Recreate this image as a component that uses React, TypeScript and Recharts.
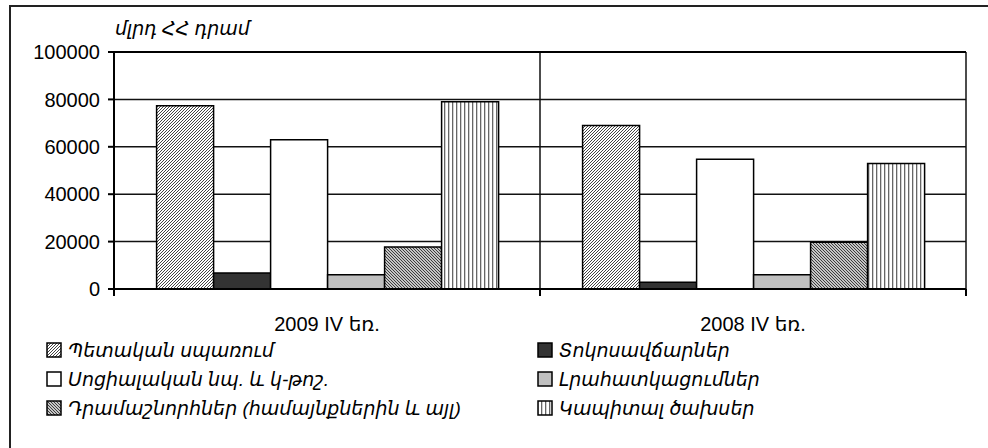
import React from 'react';
import { BarChart, Bar, XAxis, YAxis, CartesianGrid, ReferenceLine } from 'recharts';

// quarters shown on the x axis
const categories = ['2009 IV եռ.', '2008 IV եռ.'];

// values, bln AMD
const govConsumption = [77300, 69000];
const interestPayments = [6800, 2800];
const socialBenefits = [63000, 54700];
const subsidies = [6000, 6000];
const grants = [17700, 19700];
const capitalSpending = [79000, 53000];

const yTicks = [0, 20000, 40000, 60000, 80000, 100000];

const seriesNames = [
  'Պետական սպառում',
  'Տոկոսավճարներ',
  'Սոցիալական նպ. և կ-թոշ.',
  'Լրահատկացումներ',
  'Դրամաշնորհներ (համայնքներին և այլ)',
  'Կապիտալ ծախսեր',
];

const seriesValues = [govConsumption, interestPayments, socialBenefits, subsidies, grants, capitalSpending];

const data = categories.map((name, i) => {
  const row: any = { name };
  seriesValues.forEach((vals, s) => {
    row['s' + s] = vals[i];
  });
  return row;
});

const fills = ['hatchUp', '#333333', '#ffffff', '#c0c0c0', 'hatchDown', 'vStripes'];

const FONT = '"Liberation Sans", "DejaVu Sans", Arial, sans-serif';
const TICK_MARGIN = 28;

function Patterns({ prefix }: { prefix: string }) {
  return (
    <defs>
      <pattern id={prefix + 'hatchUp'} patternUnits="userSpaceOnUse" width="3" height="3">
        <rect width="3" height="3" fill="#fff" />
        <path d="M-1,1 l2,-2 M0,3 l3,-3 M2,4 l2,-2" stroke="#444" strokeWidth="1" />
      </pattern>
      <pattern id={prefix + 'hatchDown'} patternUnits="userSpaceOnUse" width="3" height="3">
        <rect width="3" height="3" fill="#fff" />
        <path d="M-1,-1 l5,5 M-1,2 l2,2 M2,-1 l2,2" stroke="#333" strokeWidth="1.1" />
      </pattern>
      <pattern id={prefix + 'vStripes'} patternUnits="userSpaceOnUse" width="4" height="4">
        <rect width="4" height="4" fill="#fff" />
        <rect x="0" width="1.3" height="4" fill="#666" />
      </pattern>
    </defs>
  );
}

function fillFor(i: number, prefix: string) {
  const f = fills[i];
  return f.startsWith('#') ? f : `url(#${prefix}${f})`;
}

function CategoryTick(props: any) {
  const { x, y, payload, index, visibleTicksCount } = props;
  const half = payload && payload.offset ? payload.offset : 0;
  const axisY = y - TICK_MARGIN;
  return (
    <g>
      <line x1={x - half} x2={x - half} y1={axisY} y2={axisY + 7} stroke="#000" strokeWidth={2} />
      {index === visibleTicksCount - 1 && (
        <line x1={x + half} x2={x + half} y1={axisY} y2={axisY + 7} stroke="#000" strokeWidth={2} />
      )}
      <text x={x} y={y} dy="0.71em" textAnchor="middle" fill="#000" fontSize={20} fontFamily={FONT}>
        {payload.value}
      </text>
    </g>
  );
}

function LegendIcon({ index }: { index: number }) {
  const prefix = 'lg' + index;
  return (
    <svg width={16} height={16} style={{ display: 'block' }}>
      <Patterns prefix={prefix} />
      <rect x={1} y={1} width={14} height={14} fill={fillFor(index, prefix)} stroke="#000" strokeWidth={1.5} />
    </svg>
  );
}

export default function App() {
  const legendOrder = [0, 2, 4, 1, 3, 5];
  return (
    <div style={{ position: 'absolute', left: 0, top: 0, width: 988, height: 448, background: '#fff', overflow: 'hidden' }}>
      <div
        style={{
          position: 'absolute',
          left: 9,
          top: 5,
          width: 990,
          height: 460,
          borderLeft: '2px solid #222',
          borderTop: '2px solid #222',
        }}
      />
      <div
        style={{
          position: 'absolute',
          left: 115,
          top: 17,
          fontFamily: FONT,
          fontStyle: 'italic',
          fontSize: 19,
          color: '#000',
        }}
      >
        մլրդ ՀՀ դրամ
      </div>
      <div style={{ position: 'absolute', left: 0, top: 0 }}>
        <BarChart
          width={988}
          height={448}
          data={data}
          margin={{ top: 52, right: 22, left: 0, bottom: 0 }}
          barCategoryGap="10%"
          barGap={0}
        >
          <Patterns prefix="" />
          <CartesianGrid
            stroke="#111"
            strokeWidth={1.5}
            verticalCoordinatesGenerator={({ offset }: any) => [
              offset.left,
              offset.left + offset.width / 2,
              offset.left + offset.width,
            ]}
          />
          <XAxis
            dataKey="name"
            height={159}
            tickLine={false}
            tickSize={0}
            tickMargin={TICK_MARGIN}
            axisLine={{ stroke: '#000', strokeWidth: 2 }}
            tick={<CategoryTick />}
            interval={0}
          />
          <YAxis
            domain={[0, 100000]}
            ticks={yTicks}
            width={114}
            tickSize={6}
            tickMargin={8}
            tickLine={{ stroke: '#000', strokeWidth: 2 }}
            axisLine={{ stroke: '#000', strokeWidth: 2 }}
            tick={{ fill: '#000', fontSize: 20, fontFamily: FONT }}
            allowDataOverflow
          />
          <ReferenceLine y={100000} stroke="#000" strokeWidth={2} />
          {seriesNames.map((n, i) => (
            <Bar
              key={i}
              dataKey={'s' + i}
              name={n}
              fill={fillFor(i, '')}
              stroke="#000"
              strokeWidth={1.5}
              isAnimationActive={false}
            />
          ))}
        </BarChart>
      </div>
      <div
        style={{
          position: 'absolute',
          left: 46,
          top: 340,
          width: 900,
          display: 'grid',
          gridTemplateColumns: '491px 400px',
          rowGap: 9,
          fontFamily: FONT,
          fontStyle: 'italic',
          fontSize: 19,
          color: '#000',
        }}
      >
        {[0, 1, 2, 3, 4, 5].map((k) => {
          const idx = legendOrder[(k % 2) * 3 + Math.floor(k / 2)];
          return (
            <div key={k} style={{ display: 'flex', alignItems: 'center', height: 20 }}>
              <LegendIcon index={idx} />
              <span style={{ marginLeft: 6, whiteSpace: 'nowrap' }}>{seriesNames[idx]}</span>
            </div>
          );
        })}
      </div>
    </div>
  );
}
